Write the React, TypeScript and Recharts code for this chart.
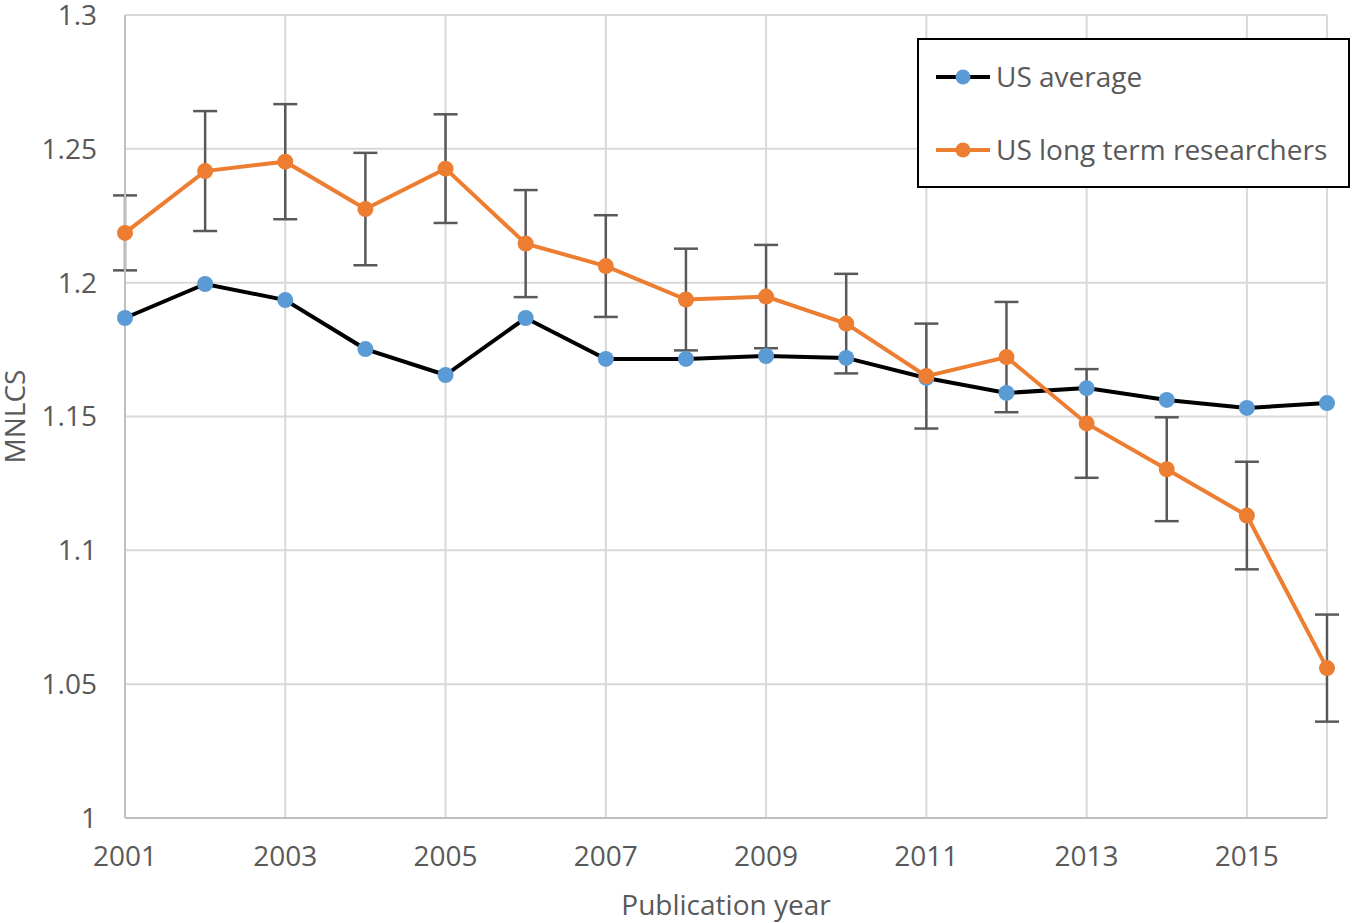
import React from 'react';
import { LineChart, Line, XAxis, YAxis, CartesianGrid, ErrorBar, Legend } from 'recharts';

const years = [2001, 2002, 2003, 2004, 2005, 2006, 2007, 2008, 2009, 2010, 2011, 2012, 2013, 2014, 2015, 2016];
const usAverage = [1.1868, 1.1995, 1.1935, 1.1752, 1.1655, 1.1868, 1.1715, 1.1715, 1.1726, 1.1719, 1.1644, 1.1588, 1.1606, 1.1562, 1.1532, 1.155];
const longTerm = [1.2186, 1.2417, 1.2452, 1.2275, 1.2426, 1.2146, 1.2062, 1.1937, 1.1948, 1.1847, 1.1651, 1.1722, 1.1474, 1.1303, 1.113, 1.056];
const longTermErr = [0.014, 0.0224, 0.0215, 0.021, 0.0203, 0.02, 0.019, 0.019, 0.0193, 0.0186, 0.0196, 0.0206, 0.0203, 0.0194, 0.0201, 0.02];
const xTicks = [2001, 2003, 2005, 2007, 2009, 2011, 2013, 2015];
const yTicks = [1, 1.05, 1.1, 1.15, 1.2, 1.25, 1.3];

const seriesNames = ['US average', 'US long term researchers'];

const data = years.map((y, i) => ({
  year: y,
  avg: usAverage[i],
  lt: longTerm[i],
  ltErr: longTermErr[i],
}));

const FONT = '"Open Sans", "Noto Sans", sans-serif';
const TEXT = '#595959';

const LegendBox = () => (
  <div style={{ width: 433, height: 150, border: '2px solid #000', boxSizing: 'border-box', background: '#fff' }}>
    <svg width={429} height={146}>
      {[
        { name: seriesNames[0], line: '#000000', dot: '#5B9BD5', cy: 37 },
        { name: seriesNames[1], line: '#ED7D31', dot: '#ED7D31', cy: 110 },
      ].map((it) => (
        <g key={it.name}>
          <line x1={17} x2={71} y1={it.cy} y2={it.cy} stroke={it.line} strokeWidth={4} />
          <circle cx={44} cy={it.cy} r={7.5} fill={it.dot} />
          <text x={77} y={it.cy} dy="0.35em" fontSize={28} fontFamily={FONT} fill={TEXT}>
            {it.name}
          </text>
        </g>
      ))}
    </svg>
  </div>
);

export default function App() {
  return (
    <div style={{ position: 'absolute', left: 0, top: 0, width: 1353, height: 923, background: '#fff' }}>
      <LineChart width={1353} height={923} data={data} margin={{ top: 15, right: 26, left: 0, bottom: 0 }}>
        <CartesianGrid stroke="#D9D9D9" strokeWidth={2} />
        <XAxis
          dataKey="year"
          type="number"
          domain={[2001, 2016]}
          ticks={xTicks}
          height={105}
          tickLine={false}
          axisLine={{ stroke: '#BFBFBF', strokeWidth: 2 }}
          tick={{ fontSize: 28, fontFamily: FONT, fill: TEXT }}
          tickMargin={22}
          interval={0}
          label={{ value: 'Publication year', position: 'insideBottom', offset: 8, fontSize: 28, fontFamily: FONT, fill: TEXT }}
        />
        <YAxis
          type="number"
          domain={[1, 1.3]}
          ticks={yTicks}
          width={125}
          tickLine={false}
          axisLine={{ stroke: '#BFBFBF', strokeWidth: 2 }}
          tick={{ fontSize: 28, fontFamily: FONT, fill: TEXT }}
          tickMargin={22}
          interval={0}
          label={{ value: 'MNLCS', angle: -90, position: 'insideLeft', offset: 15, fontSize: 28, fontFamily: FONT, fill: TEXT, style: { textAnchor: 'middle' } }}
        />
        <Legend
          layout="vertical"
          align="center"
          verticalAlign="middle"
          content={() => <LegendBox />}
          wrapperStyle={{ left: 917, top: 38, width: 433, height: 150 }}
        />
        <Line
          dataKey="avg"
          name={seriesNames[0]}
          stroke="#000000"
          strokeWidth={4}
          dot={{ r: 8, fill: '#5B9BD5', stroke: 'none' }}
          activeDot={false}
          isAnimationActive={false}
        />
        <Line
          dataKey="lt"
          name={seriesNames[1]}
          stroke="#ED7D31"
          strokeWidth={4}
          dot={{ r: 8, fill: '#ED7D31', stroke: 'none' }}
          activeDot={false}
          isAnimationActive={false}
        >
          <ErrorBar dataKey="ltErr" direction="y" width={12} stroke="#595959" strokeWidth={2.5} isAnimationActive={false} />
        </Line>
      </LineChart>
    </div>
  );
}
